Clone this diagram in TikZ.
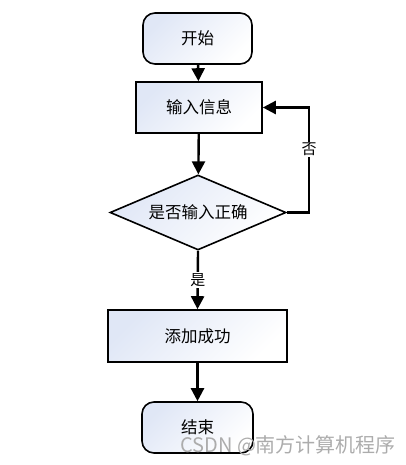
\documentclass[tikz,border=0pt]{standalone}
\usepackage{fontspec}
\setmainfont{Noto Sans CJK SC}
\newfontfamily\wmfont{Noto Sans CJK SC}
\usetikzlibrary{arrows.meta,shapes.geometric}
\definecolor{fillblue}{RGB}{224,231,246}
\tikzset{
  x=1pt,y=-1pt,
  boxfill/.style={left color=fillblue,right color=white,shading angle=45},
  procbox/.style={draw=black,line width=1.6pt,boxfill,rectangle,inner sep=0pt,font=\fontsize{16.5}{16.5}\selectfont},
  termbox/.style={procbox,rounded corners=12pt},
  decbox/.style={draw=black,line width=1.6pt,boxfill,diamond,aspect=2.35,inner sep=0pt,font=\fontsize{16.5}{16.5}\selectfont},
  conn/.style={line width=2.4pt,-{Triangle[width=13pt,length=13pt]}},
  lbl/.style={fill=white,inner sep=1.5pt,font=\fontsize{15}{15}\selectfont}
}
\begin{document}
\begin{tikzpicture}
\useasboundingbox (0,0) rectangle (406,465);
\node[termbox,minimum width=109pt,minimum height=51pt] (start) at (197.5,38.5) {开始};
\node[procbox,minimum width=126pt,minimum height=51pt] (input) at (199,107.5) {输入信息};
\node[decbox,minimum width=176pt,minimum height=75pt] (check) at (198,212.5) {是否输入正确};
\node[procbox,minimum width=179pt,minimum height=52pt] (ok) at (197.5,336) {添加成功};
\node[termbox,minimum width=111pt,minimum height=51pt] (end) at (197.5,427.5) {结束};
\coordinate (loopB) at (309,212.5);
\coordinate (loopT) at (309,107.5);
\draw[conn] (start) -- (input);
\draw[conn] (input) -- (check);
\draw[conn] (check.south) -- node[lbl,pos=0.5] (yes) {是} (ok.north);
\draw[conn] (ok) -- (end);
\draw[conn] (check.east) -- (loopB) -- node[lbl,pos=0.6] (no) {否} (loopT) -- (input.east);
\node[anchor=west,text=gray!65,font=\wmfont\fontsize{20}{20}\selectfont,inner sep=0pt] (wm) at (180,446) {CSDN @南方计算机程序};
\end{tikzpicture}
\end{document}
